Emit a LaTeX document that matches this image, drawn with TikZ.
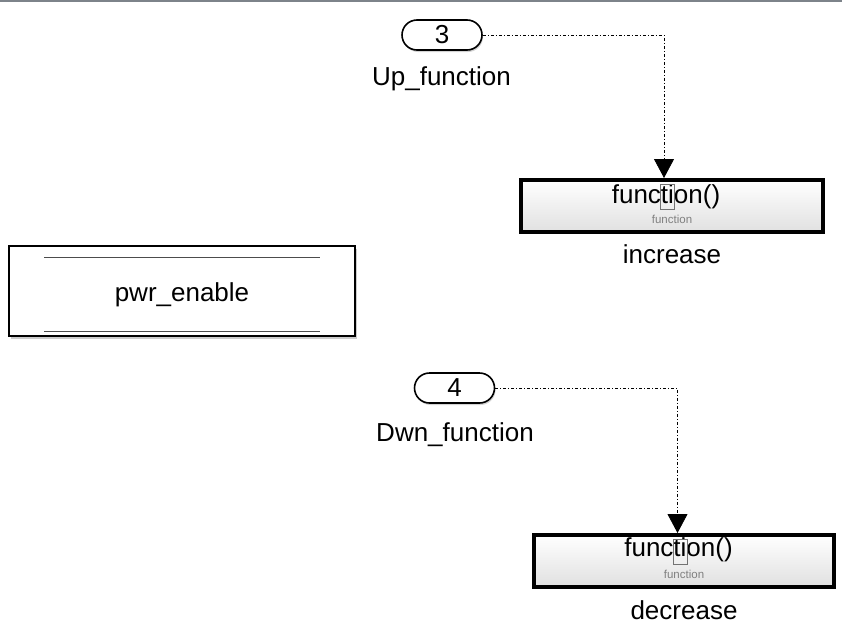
\documentclass[tikz,border=0pt]{standalone}
\usepackage{fontspec}
\setmainfont{Liberation Sans}
\usepackage[usenames,dvipsnames]{xcolor}
\definecolor{framegray}{RGB}{125,131,138}
\usetikzlibrary{arrows.meta, positioning, shapes, shadows}

\begin{document}
\begin{tikzpicture}[
    x=1pt, y=-1pt,
    every node/.style={align=center, font=\fontsize{26}{30}\selectfont},
    port/.style={rounded rectangle, draw, line width=1.6pt, minimum width=80pt, minimum height=30pt, inner sep=0pt, fill=white, drop shadow={shadow xshift=1pt, shadow yshift=-2pt, opacity=0.35}},
    fcall/.style={rectangle, draw, line width=4pt, minimum width=302pt, minimum height=52pt, top color=white, bottom color=black!12, drop shadow={shadow xshift=2pt, shadow yshift=-2pt, opacity=0.4}},
    gotobox/.style={rectangle, draw, line width=2pt, minimum width=346pt, minimum height=90pt, fill=white, drop shadow={shadow xshift=2pt, shadow yshift=-2.5pt, opacity=0.4}},
    lbl/.style={anchor=base, inner sep=0pt},
    sub/.style={anchor=base, inner sep=0pt, font=\fontsize{11.5}{13}\selectfont, text=black!50},
    cursor/.style={rectangle, draw=black!55, line width=0.6pt, minimum width=14pt, minimum height=25pt, inner sep=0pt},
    bar/.style={draw=black!70, line width=1pt},
    arrow/.style={-{Triangle[length=19pt, width=20pt]}, line width=0.8pt, dash pattern=on 3pt off 2pt on 1pt off 2pt}
]
\useasboundingbox (0,0) rectangle (842,627);
\draw[framegray, line width=2pt] (0,1) -- (842,1);

% goto tag
\node[gotobox] (pwr) at (182,291) {};
\node[lbl] (pwrtxt) at ([yshift=-10pt]pwr.center) {pwr\_enable};
\draw[bar] ([xshift=36pt,yshift=-12pt]pwr.north west) -- ([xshift=-36pt,yshift=-12pt]pwr.north east);
\draw[bar] ([xshift=36pt,yshift=6pt]pwr.south west) -- ([xshift=-36pt,yshift=6pt]pwr.south east);

% ports
\node[port] (p3) at (442,35) {3};
\node[lbl] (up) at (441.5,85) {Up\_function};
\node[port] (p4) at (454.5,388) {4};
\node[lbl] (dwn) at (455,441) {Dwn\_function};

% function-call blocks
\node[fcall] (inc) at (672,206) {};
\node[lbl] (incfn) at ([xshift=-6pt,yshift=3pt]inc.center) {function()};
\node[sub] (incsub) at ([yshift=-17pt]inc.center) {function};
\node[cursor, below=6pt of inc.north, xshift=-5pt] (inccur) {};
\node[lbl] (inclbl) at ([yshift=-29pt]inc.south) {increase};

\node[fcall, minimum width=300pt] (dec) at (684,561) {};
\node[lbl] (decfn) at ([xshift=-5.5pt,yshift=5pt]dec.center) {function()};
\node[sub] (decsub) at ([yshift=-17pt]dec.center) {function};
\node[cursor, below=6pt of dec.north, xshift=-4pt] (deccur) {};
\node[lbl] (declbl) at ([yshift=-30pt]dec.south) {decrease};

\draw[arrow] (p3.east) -| ([xshift=-8pt]inc.north);
\draw[arrow] (p4.east) -| ([xshift=-6.5pt]dec.north);
\end{tikzpicture}
\end{document}
